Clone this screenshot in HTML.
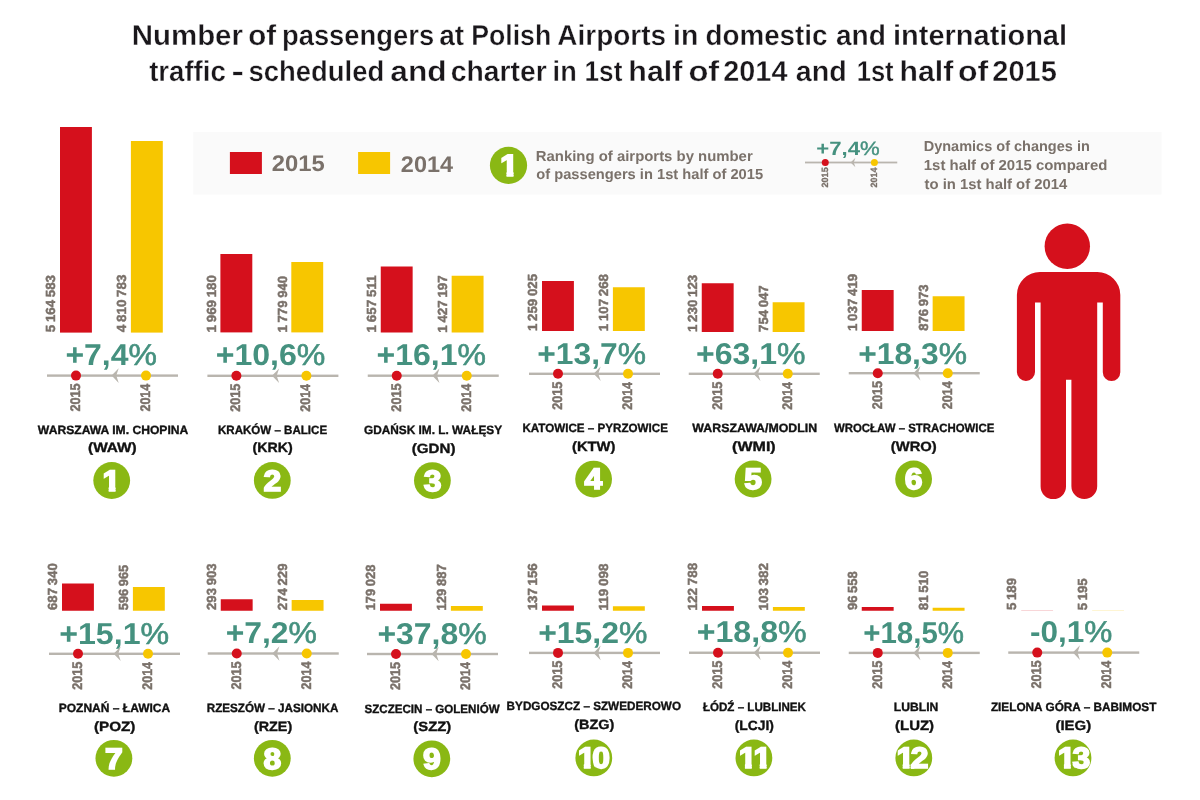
<!DOCTYPE html>
<html lang="en">
<head>
<meta charset="utf-8">
<title>Number of passengers at Polish Airports</title>
<style>
html,body{margin:0;padding:0;background:#fff;}
body{width:1200px;height:800px;overflow:hidden;}
svg{display:block;font-family:"Liberation Sans",sans-serif;}
text{white-space:pre;text-rendering:geometricPrecision;}
</style>
</head>
<body>
<svg width="1200" height="800" viewBox="0 0 1200 800">
<rect width="1200" height="800" fill="#ffffff"/>
<text y="45.10" font-size="28.8" fill="#1a171b" font-weight="bold" stroke="#fff" stroke-width="0.35"><tspan x="131.78" textLength="111.16" lengthAdjust="spacingAndGlyphs">Number</tspan> <tspan x="248.35" textLength="27.84" lengthAdjust="spacingAndGlyphs">of</tspan> <tspan x="281.95" textLength="152.18" lengthAdjust="spacingAndGlyphs">passengers</tspan> <tspan x="439.18" textLength="24.91" lengthAdjust="spacingAndGlyphs">at</tspan> <tspan x="471.22" textLength="79.93" lengthAdjust="spacingAndGlyphs">Polish</tspan> <tspan x="557.30" textLength="108.84" lengthAdjust="spacingAndGlyphs">Airports</tspan> <tspan x="673.02" textLength="25.25" lengthAdjust="spacingAndGlyphs">in</tspan> <tspan x="705.56" textLength="121.95" lengthAdjust="spacingAndGlyphs">domestic</tspan> <tspan x="835.88" textLength="49.98" lengthAdjust="spacingAndGlyphs">and</tspan> <tspan x="892.97" textLength="174.08" lengthAdjust="spacingAndGlyphs">international</tspan></text>
<text y="81.30" font-size="28.8" fill="#1a171b" font-weight="bold" stroke="#fff" stroke-width="0.35"><tspan x="149.16" textLength="76.64" lengthAdjust="spacingAndGlyphs">traffic</tspan> <tspan x="231.54" textLength="12.46" lengthAdjust="spacingAndGlyphs">-</tspan> <tspan x="248.53" textLength="135.77" lengthAdjust="spacingAndGlyphs">scheduled</tspan> <tspan x="390.32" textLength="56.26" lengthAdjust="spacingAndGlyphs">and</tspan> <tspan x="450.64" textLength="96.04" lengthAdjust="spacingAndGlyphs">charter</tspan> <tspan x="552.61" textLength="24.07" lengthAdjust="spacingAndGlyphs">in</tspan> <tspan x="584.61" textLength="37.71" lengthAdjust="spacingAndGlyphs">1st</tspan> <tspan x="628.38" textLength="54.06" lengthAdjust="spacingAndGlyphs">half</tspan> <tspan x="688.48" textLength="30.76" lengthAdjust="spacingAndGlyphs">of</tspan> <tspan x="723.30" textLength="64.15" lengthAdjust="spacingAndGlyphs">2014</tspan> <tspan x="795.86" textLength="51.03" lengthAdjust="spacingAndGlyphs">and</tspan> <tspan x="856.69" textLength="36.92" lengthAdjust="spacingAndGlyphs">1st</tspan> <tspan x="899.59" textLength="53.65" lengthAdjust="spacingAndGlyphs">half</tspan> <tspan x="958.05" textLength="30.19" lengthAdjust="spacingAndGlyphs">of</tspan> <tspan x="992.29" textLength="64.51" lengthAdjust="spacingAndGlyphs">2015</tspan></text>
<rect x="193.3" y="132" width="968.2" height="62.6" fill="#fafafa"/>
<rect x="229.9" y="152" width="32" height="22" fill="#d5101c"/>
<text x="271.87" y="170.80" font-size="22.7" fill="#7a716a" font-weight="bold" textLength="52.99" lengthAdjust="spacingAndGlyphs">2015</text>
<rect x="358.1" y="152" width="32" height="22" fill="#f7c600"/>
<text x="400.89" y="171.60" font-size="22.7" fill="#7a716a" font-weight="bold" textLength="52.14" lengthAdjust="spacingAndGlyphs">2014</text>
<circle cx="508.50" cy="165.40" r="18.6" fill="#8ab814"/>
<clipPath id="bc1"><rect x="-60" y="-60" width="120" height="55.68"/><rect x="-1.84" y="-4.82" width="6.50" height="10.32"/></clipPath>
<text transform="translate(508.50 175.95) scale(1.08 1)" clip-path="url(#bc1)" font-size="30.6" fill="#fff" stroke="#fff" stroke-width="1.7" stroke-linejoin="miter" font-weight="bold"><tspan x="-7.83">1</tspan></text>
<text x="535.80" y="161.30" font-size="14.5" fill="#7a716a" font-weight="bold" textLength="216.92" lengthAdjust="spacingAndGlyphs">Ranking of airports by number</text>
<text x="536.23" y="179.20" font-size="14.5" fill="#7a716a" font-weight="bold" textLength="226.88" lengthAdjust="spacingAndGlyphs">of passengers in 1st half of 2015</text>
<text x="816.32" y="154.80" font-size="19.4" fill="#45917f" font-weight="bold" textLength="63.47" lengthAdjust="spacingAndGlyphs">+7,4<tspan font-weight="normal" stroke="#45917f" stroke-width="0.39">%</tspan></text>
<rect x="805.00" y="161.60" width="92.25" height="1.8" fill="#b9b5ae"/>
<path d="M850.60 162.50 L855.40 157.80 L853.77 162.50 L855.40 167.20 Z" fill="#b9b5ae"/>
<circle cx="825.25" cy="162.50" r="3.5" fill="#d5101c"/>
<circle cx="874.40" cy="162.50" r="3.5" fill="#f7c600"/>
<text transform="translate(827.70 187.41) rotate(-90)" font-size="9.1" fill="#7a716a" font-weight="bold" stroke="#7a716a" stroke-width="0.32" textLength="20.06" lengthAdjust="spacingAndGlyphs">2015</text>
<text transform="translate(876.90 187.41) rotate(-90)" font-size="9.1" fill="#7a716a" font-weight="bold" stroke="#7a716a" stroke-width="0.32" textLength="19.86" lengthAdjust="spacingAndGlyphs">2014</text>
<text x="923.73" y="150.80" font-size="14.5" fill="#7a716a" font-weight="bold" textLength="166.07" lengthAdjust="spacingAndGlyphs">Dynamics of changes in</text>
<text x="923.76" y="170.00" font-size="14.5" fill="#7a716a" font-weight="bold" textLength="183.63" lengthAdjust="spacingAndGlyphs">1st half of 2015 compared</text>
<text x="924.52" y="189.30" font-size="14.5" fill="#7a716a" font-weight="bold" textLength="142.76" lengthAdjust="spacingAndGlyphs">to in 1st half of 2014</text>
<rect x="60.00" y="127.00" width="31.9" height="205.60" fill="#d5101c"/>
<rect x="130.90" y="141.00" width="31.9" height="191.60" fill="#f7c600"/>
<text transform="translate(55.30 332.20) rotate(-90)" font-size="13.2" fill="#7a716a" font-weight="bold" stroke="#7a716a" stroke-width="0.46" word-spacing="-1" textLength="57.16" lengthAdjust="spacingAndGlyphs">5 164 583</text>
<text transform="translate(126.15 332.20) rotate(-90)" font-size="13.2" fill="#7a716a" font-weight="bold" stroke="#7a716a" stroke-width="0.46" word-spacing="-1" textLength="57.66" lengthAdjust="spacingAndGlyphs">4 810 783</text>
<text x="65.46" y="365.00" font-size="30.1" fill="#45917f" font-weight="bold" textLength="91.48" lengthAdjust="spacingAndGlyphs">+7,4<tspan font-weight="normal" stroke="#45917f" stroke-width="0.60">%</tspan></text>
<rect x="47.00" y="374.40" width="131.00" height="2.4" fill="#b9b5ae"/>
<path d="M111.60 375.60 L118.70 368.30 L116.29 375.60 L118.70 382.90 Z" fill="#b9b5ae"/>
<circle cx="76.00" cy="375.60" r="5" fill="#d5101c"/>
<circle cx="146.00" cy="375.60" r="5" fill="#f7c600"/>
<text transform="translate(80.00 411.54) rotate(-90)" font-size="13.9" fill="#7a716a" font-weight="bold" stroke="#7a716a" stroke-width="0.49" textLength="28.09" lengthAdjust="spacingAndGlyphs">2015</text>
<text transform="translate(150.00 411.53) rotate(-90)" font-size="13.9" fill="#7a716a" font-weight="bold" stroke="#7a716a" stroke-width="0.49" textLength="27.80" lengthAdjust="spacingAndGlyphs">2014</text>
<text x="37.89" y="434.00" font-size="12" fill="#111" font-weight="bold" textLength="150.43" lengthAdjust="spacingAndGlyphs" stroke="#111" stroke-width="0.35">WARSZAWA IM. CHOPINA</text>
<text x="88.06" y="452.20" font-size="13.4" fill="#111" font-weight="bold" textLength="48.68" lengthAdjust="spacingAndGlyphs" stroke="#111" stroke-width="0.35">(WAW)</text>
<circle cx="111.70" cy="480.50" r="18.4" fill="#8ab814"/>
<clipPath id="bc2"><rect x="-60" y="-60" width="120" height="55.79"/><rect x="-2.78" y="-4.71" width="6.35" height="10.21"/></clipPath>
<text transform="translate(111.70 490.85) scale(1.08 1)" clip-path="url(#bc2)" font-size="29.5" fill="#fff" stroke="#fff" stroke-width="1.7" stroke-linejoin="miter" font-weight="bold"><tspan x="-8.51">1</tspan></text>
<rect x="220.40" y="254.00" width="31.9" height="78.40" fill="#d5101c"/>
<rect x="291.30" y="262.00" width="31.9" height="70.40" fill="#f7c600"/>
<text transform="translate(215.70 332.41) rotate(-90)" font-size="13.2" fill="#7a716a" font-weight="bold" stroke="#7a716a" stroke-width="0.46" word-spacing="-1" textLength="57.34" lengthAdjust="spacingAndGlyphs">1 969 180</text>
<text transform="translate(286.55 332.60) rotate(-90)" font-size="13.2" fill="#7a716a" font-weight="bold" stroke="#7a716a" stroke-width="0.46" word-spacing="-1" textLength="56.83" lengthAdjust="spacingAndGlyphs">1 779 940</text>
<text x="215.65" y="365.40" font-size="30.1" fill="#45917f" font-weight="bold" textLength="109.79" lengthAdjust="spacingAndGlyphs">+10,6<tspan font-weight="normal" stroke="#45917f" stroke-width="0.60">%</tspan></text>
<rect x="207.40" y="374.60" width="131.00" height="2.4" fill="#b9b5ae"/>
<path d="M272.00 375.80 L279.10 368.50 L276.69 375.80 L279.10 383.10 Z" fill="#b9b5ae"/>
<circle cx="236.40" cy="375.80" r="5" fill="#d5101c"/>
<circle cx="306.40" cy="375.80" r="5" fill="#f7c600"/>
<text transform="translate(240.40 411.74) rotate(-90)" font-size="13.9" fill="#7a716a" font-weight="bold" stroke="#7a716a" stroke-width="0.49" textLength="28.09" lengthAdjust="spacingAndGlyphs">2015</text>
<text transform="translate(310.40 411.73) rotate(-90)" font-size="13.9" fill="#7a716a" font-weight="bold" stroke="#7a716a" stroke-width="0.49" textLength="27.80" lengthAdjust="spacingAndGlyphs">2014</text>
<text x="217.93" y="434.00" font-size="12" fill="#111" font-weight="bold" textLength="109.23" lengthAdjust="spacingAndGlyphs" stroke="#111" stroke-width="0.35">KRAKÓW – BALICE</text>
<text x="252.59" y="452.20" font-size="13.4" fill="#111" font-weight="bold" textLength="40.11" lengthAdjust="spacingAndGlyphs" stroke="#111" stroke-width="0.35">(KRK)</text>
<circle cx="272.30" cy="480.40" r="18.4" fill="#8ab814"/>
<clipPath id="bc3"><rect x="-60" y="-60" width="120" height="55.79"/><rect x="-8.25" y="-4.71" width="16.50" height="10.21"/></clipPath>
<text transform="translate(272.30 490.75) scale(1.08 1)" clip-path="url(#bc3)" font-size="29.5" fill="#fff" stroke="#fff" stroke-width="1.7" stroke-linejoin="miter" font-weight="bold"><tspan x="-8.12">2</tspan></text>
<rect x="380.75" y="266.50" width="31.9" height="66.00" fill="#d5101c"/>
<rect x="451.65" y="275.75" width="31.9" height="56.75" fill="#f7c600"/>
<text transform="translate(376.05 332.51) rotate(-90)" font-size="13.2" fill="#7a716a" font-weight="bold" stroke="#7a716a" stroke-width="0.46" word-spacing="-1" textLength="57.17" lengthAdjust="spacingAndGlyphs">1 657 511</text>
<text transform="translate(446.90 332.71) rotate(-90)" font-size="13.2" fill="#7a716a" font-weight="bold" stroke="#7a716a" stroke-width="0.46" word-spacing="-1" textLength="57.38" lengthAdjust="spacingAndGlyphs">1 427 197</text>
<text x="376.46" y="364.60" font-size="30.1" fill="#45917f" font-weight="bold" textLength="109.49" lengthAdjust="spacingAndGlyphs">+16,1<tspan font-weight="normal" stroke="#45917f" stroke-width="0.60">%</tspan></text>
<rect x="367.75" y="374.50" width="131.00" height="2.4" fill="#b9b5ae"/>
<path d="M432.35 375.70 L439.45 368.40 L437.04 375.70 L439.45 383.00 Z" fill="#b9b5ae"/>
<circle cx="396.75" cy="375.70" r="5" fill="#d5101c"/>
<circle cx="466.75" cy="375.70" r="5" fill="#f7c600"/>
<text transform="translate(400.75 411.64) rotate(-90)" font-size="13.9" fill="#7a716a" font-weight="bold" stroke="#7a716a" stroke-width="0.49" textLength="28.09" lengthAdjust="spacingAndGlyphs">2015</text>
<text transform="translate(470.75 411.63) rotate(-90)" font-size="13.9" fill="#7a716a" font-weight="bold" stroke="#7a716a" stroke-width="0.49" textLength="27.80" lengthAdjust="spacingAndGlyphs">2014</text>
<text x="364.02" y="434.00" font-size="12" fill="#111" font-weight="bold" textLength="138.07" lengthAdjust="spacingAndGlyphs" stroke="#111" stroke-width="0.35">GDAŃSK IM. L. WAŁĘSY</text>
<text x="411.75" y="452.60" font-size="13.4" fill="#111" font-weight="bold" textLength="43.71" lengthAdjust="spacingAndGlyphs" stroke="#111" stroke-width="0.35">(GDN)</text>
<circle cx="432.40" cy="480.60" r="18.4" fill="#8ab814"/>
<clipPath id="bc4"><rect x="-60" y="-60" width="120" height="55.79"/><rect x="-8.48" y="-4.71" width="16.96" height="10.21"/></clipPath>
<text transform="translate(432.40 490.95) scale(1.08 1)" clip-path="url(#bc4)" font-size="29.5" fill="#fff" stroke="#fff" stroke-width="1.7" stroke-linejoin="miter" font-weight="bold"><tspan x="-8.01">3</tspan></text>
<rect x="542.00" y="281.00" width="31.9" height="50.00" fill="#d5101c"/>
<rect x="612.90" y="287.25" width="31.9" height="43.75" fill="#f7c600"/>
<text transform="translate(537.30 331.01) rotate(-90)" font-size="13.2" fill="#7a716a" font-weight="bold" stroke="#7a716a" stroke-width="0.46" word-spacing="-1" textLength="57.17" lengthAdjust="spacingAndGlyphs">1 259 025</text>
<text transform="translate(608.15 331.21) rotate(-90)" font-size="13.2" fill="#7a716a" font-weight="bold" stroke="#7a716a" stroke-width="0.46" word-spacing="-1" textLength="57.21" lengthAdjust="spacingAndGlyphs">1 107 268</text>
<text x="537.27" y="364.00" font-size="30.1" fill="#45917f" font-weight="bold" textLength="108.67" lengthAdjust="spacingAndGlyphs">+13,7<tspan font-weight="normal" stroke="#45917f" stroke-width="0.60">%</tspan></text>
<rect x="529.00" y="372.60" width="131.00" height="2.4" fill="#b9b5ae"/>
<path d="M593.60 373.80 L600.70 366.50 L598.29 373.80 L600.70 381.10 Z" fill="#b9b5ae"/>
<circle cx="558.00" cy="373.80" r="5" fill="#d5101c"/>
<circle cx="628.00" cy="373.80" r="5" fill="#f7c600"/>
<text transform="translate(562.00 409.74) rotate(-90)" font-size="13.9" fill="#7a716a" font-weight="bold" stroke="#7a716a" stroke-width="0.49" textLength="28.09" lengthAdjust="spacingAndGlyphs">2015</text>
<text transform="translate(632.00 409.73) rotate(-90)" font-size="13.9" fill="#7a716a" font-weight="bold" stroke="#7a716a" stroke-width="0.49" textLength="27.80" lengthAdjust="spacingAndGlyphs">2014</text>
<text x="522.43" y="431.90" font-size="12" fill="#111" font-weight="bold" textLength="145.52" lengthAdjust="spacingAndGlyphs" stroke="#111" stroke-width="0.35">KATOWICE – PYRZOWICE</text>
<text x="572.07" y="451.20" font-size="13.4" fill="#111" font-weight="bold" textLength="43.37" lengthAdjust="spacingAndGlyphs" stroke="#111" stroke-width="0.35">(KTW)</text>
<circle cx="593.60" cy="479.10" r="18.4" fill="#8ab814"/>
<clipPath id="bc5"><rect x="-60" y="-60" width="120" height="55.79"/><rect x="-9.05" y="-4.71" width="18.10" height="10.21"/></clipPath>
<text transform="translate(593.60 489.45) scale(1.08 1)" clip-path="url(#bc5)" font-size="29.5" fill="#fff" stroke="#fff" stroke-width="1.7" stroke-linejoin="miter" font-weight="bold"><tspan x="-8.35">4</tspan></text>
<rect x="701.75" y="283.25" width="31.9" height="48.75" fill="#d5101c"/>
<rect x="772.65" y="302.25" width="31.9" height="29.75" fill="#f7c600"/>
<text transform="translate(697.05 332.01) rotate(-90)" font-size="13.2" fill="#7a716a" font-weight="bold" stroke="#7a716a" stroke-width="0.46" word-spacing="-1" textLength="57.28" lengthAdjust="spacingAndGlyphs">1 230 123</text>
<text transform="translate(767.90 331.95) rotate(-90)" font-size="13.2" fill="#7a716a" font-weight="bold" stroke="#7a716a" stroke-width="0.46" word-spacing="-1" textLength="46.62" lengthAdjust="spacingAndGlyphs">754 047</text>
<text x="696.06" y="364.00" font-size="30.1" fill="#45917f" font-weight="bold" textLength="109.49" lengthAdjust="spacingAndGlyphs">+63,1<tspan font-weight="normal" stroke="#45917f" stroke-width="0.60">%</tspan></text>
<rect x="688.75" y="372.60" width="131.00" height="2.4" fill="#b9b5ae"/>
<path d="M753.35 373.80 L760.45 366.50 L758.04 373.80 L760.45 381.10 Z" fill="#b9b5ae"/>
<circle cx="717.75" cy="373.80" r="5" fill="#d5101c"/>
<circle cx="787.75" cy="373.80" r="5" fill="#f7c600"/>
<text transform="translate(721.75 409.74) rotate(-90)" font-size="13.9" fill="#7a716a" font-weight="bold" stroke="#7a716a" stroke-width="0.49" textLength="28.09" lengthAdjust="spacingAndGlyphs">2015</text>
<text transform="translate(791.75 409.73) rotate(-90)" font-size="13.9" fill="#7a716a" font-weight="bold" stroke="#7a716a" stroke-width="0.49" textLength="27.80" lengthAdjust="spacingAndGlyphs">2014</text>
<text x="692.39" y="431.90" font-size="12" fill="#111" font-weight="bold" textLength="124.73" lengthAdjust="spacingAndGlyphs" stroke="#111" stroke-width="0.35">WARSZAWA/MODLIN</text>
<text x="732.10" y="450.50" font-size="13.4" fill="#111" font-weight="bold" textLength="43.60" lengthAdjust="spacingAndGlyphs" stroke="#111" stroke-width="0.35">(WMI)</text>
<circle cx="753.10" cy="479.00" r="18.4" fill="#8ab814"/>
<clipPath id="bc6"><rect x="-60" y="-60" width="120" height="55.79"/><rect x="-8.49" y="-4.71" width="16.98" height="10.21"/></clipPath>
<text transform="translate(753.10 489.35) scale(1.08 1)" clip-path="url(#bc6)" font-size="29.5" fill="#fff" stroke="#fff" stroke-width="1.7" stroke-linejoin="miter" font-weight="bold"><tspan x="-8.25">5</tspan></text>
<rect x="861.75" y="290.00" width="31.9" height="41.00" fill="#d5101c"/>
<rect x="932.65" y="296.25" width="31.9" height="34.75" fill="#f7c600"/>
<text transform="translate(857.05 331.01) rotate(-90)" font-size="13.2" fill="#7a716a" font-weight="bold" stroke="#7a716a" stroke-width="0.46" word-spacing="-1" textLength="57.29" lengthAdjust="spacingAndGlyphs">1 037 419</text>
<text transform="translate(927.90 330.81) rotate(-90)" font-size="13.2" fill="#7a716a" font-weight="bold" stroke="#7a716a" stroke-width="0.46" word-spacing="-1" textLength="46.37" lengthAdjust="spacingAndGlyphs">876 973</text>
<text x="858.16" y="363.50" font-size="30.1" fill="#45917f" font-weight="bold" textLength="108.77" lengthAdjust="spacingAndGlyphs">+18,3<tspan font-weight="normal" stroke="#45917f" stroke-width="0.60">%</tspan></text>
<rect x="848.75" y="372.00" width="131.00" height="2.4" fill="#b9b5ae"/>
<path d="M913.35 373.20 L920.45 365.90 L918.04 373.20 L920.45 380.50 Z" fill="#b9b5ae"/>
<circle cx="877.75" cy="373.20" r="5" fill="#d5101c"/>
<circle cx="947.75" cy="373.20" r="5" fill="#f7c600"/>
<text transform="translate(881.75 409.14) rotate(-90)" font-size="13.9" fill="#7a716a" font-weight="bold" stroke="#7a716a" stroke-width="0.49" textLength="28.09" lengthAdjust="spacingAndGlyphs">2015</text>
<text transform="translate(951.75 409.13) rotate(-90)" font-size="13.9" fill="#7a716a" font-weight="bold" stroke="#7a716a" stroke-width="0.49" textLength="27.80" lengthAdjust="spacingAndGlyphs">2014</text>
<text x="833.99" y="431.90" font-size="12" fill="#111" font-weight="bold" textLength="160.36" lengthAdjust="spacingAndGlyphs" stroke="#111" stroke-width="0.35">WROCŁAW – STRACHOWICE</text>
<text x="890.87" y="450.50" font-size="13.4" fill="#111" font-weight="bold" textLength="45.87" lengthAdjust="spacingAndGlyphs" stroke="#111" stroke-width="0.35">(WRO)</text>
<circle cx="913.60" cy="479.00" r="18.4" fill="#8ab814"/>
<clipPath id="bc7"><rect x="-60" y="-60" width="120" height="55.79"/><rect x="-8.28" y="-4.71" width="16.56" height="10.21"/></clipPath>
<text transform="translate(913.60 489.35) scale(1.08 1)" clip-path="url(#bc7)" font-size="29.5" fill="#fff" stroke="#fff" stroke-width="1.7" stroke-linejoin="miter" font-weight="bold"><tspan x="-8.21">6</tspan></text>
<rect x="62.00" y="583.50" width="31.9" height="27.25" fill="#d5101c"/>
<rect x="132.90" y="587.00" width="31.9" height="23.75" fill="#f7c600"/>
<text transform="translate(56.80 610.02) rotate(-90)" font-size="13.2" fill="#7a716a" font-weight="bold" stroke="#7a716a" stroke-width="0.46" word-spacing="-1" textLength="46.75" lengthAdjust="spacingAndGlyphs">687 340</text>
<text transform="translate(127.90 610.13) rotate(-90)" font-size="13.2" fill="#7a716a" font-weight="bold" stroke="#7a716a" stroke-width="0.46" word-spacing="-1" textLength="45.23" lengthAdjust="spacingAndGlyphs">596 965</text>
<text x="59.15" y="643.50" font-size="30.1" fill="#45917f" font-weight="bold" textLength="110.00" lengthAdjust="spacingAndGlyphs">+15,1<tspan font-weight="normal" stroke="#45917f" stroke-width="0.60">%</tspan></text>
<rect x="49.00" y="652.60" width="131.00" height="2.4" fill="#b9b5ae"/>
<path d="M113.60 653.80 L120.70 646.50 L118.29 653.80 L120.70 661.10 Z" fill="#b9b5ae"/>
<circle cx="78.00" cy="653.80" r="5" fill="#d5101c"/>
<circle cx="148.00" cy="653.80" r="5" fill="#f7c600"/>
<text transform="translate(82.00 689.74) rotate(-90)" font-size="13.9" fill="#7a716a" font-weight="bold" stroke="#7a716a" stroke-width="0.49" textLength="28.09" lengthAdjust="spacingAndGlyphs">2015</text>
<text transform="translate(152.00 689.73) rotate(-90)" font-size="13.9" fill="#7a716a" font-weight="bold" stroke="#7a716a" stroke-width="0.49" textLength="27.80" lengthAdjust="spacingAndGlyphs">2014</text>
<text x="58.70" y="712.10" font-size="12" fill="#111" font-weight="bold" textLength="111.51" lengthAdjust="spacingAndGlyphs" stroke="#111" stroke-width="0.35">POZNAŃ – ŁAWICA</text>
<text x="93.94" y="730.80" font-size="13.4" fill="#111" font-weight="bold" textLength="41.52" lengthAdjust="spacingAndGlyphs" stroke="#111" stroke-width="0.35">(POZ)</text>
<circle cx="113.90" cy="758.30" r="18.4" fill="#8ab814"/>
<clipPath id="bc8"><rect x="-60" y="-60" width="120" height="55.79"/><rect x="-8.07" y="-4.71" width="16.14" height="10.21"/></clipPath>
<text transform="translate(113.90 768.65) scale(1.08 1)" clip-path="url(#bc8)" font-size="29.5" fill="#fff" stroke="#fff" stroke-width="1.7" stroke-linejoin="miter" font-weight="bold"><tspan x="-8.19">7</tspan></text>
<rect x="220.75" y="599.25" width="31.9" height="11.50" fill="#d5101c"/>
<rect x="291.65" y="600.00" width="31.9" height="10.75" fill="#f7c600"/>
<text transform="translate(215.55 610.00) rotate(-90)" font-size="13.2" fill="#7a716a" font-weight="bold" stroke="#7a716a" stroke-width="0.46" word-spacing="-1" textLength="46.66" lengthAdjust="spacingAndGlyphs">293 903</text>
<text transform="translate(286.65 610.20) rotate(-90)" font-size="13.2" fill="#7a716a" font-weight="bold" stroke="#7a716a" stroke-width="0.46" word-spacing="-1" textLength="46.68" lengthAdjust="spacingAndGlyphs">274 229</text>
<text x="225.66" y="643.10" font-size="30.1" fill="#45917f" font-weight="bold" textLength="91.22" lengthAdjust="spacingAndGlyphs">+7,2<tspan font-weight="normal" stroke="#45917f" stroke-width="0.60">%</tspan></text>
<rect x="207.75" y="652.30" width="131.00" height="2.4" fill="#b9b5ae"/>
<path d="M272.35 653.50 L279.45 646.20 L277.04 653.50 L279.45 660.80 Z" fill="#b9b5ae"/>
<circle cx="236.75" cy="653.50" r="5" fill="#d5101c"/>
<circle cx="306.75" cy="653.50" r="5" fill="#f7c600"/>
<text transform="translate(240.75 689.44) rotate(-90)" font-size="13.9" fill="#7a716a" font-weight="bold" stroke="#7a716a" stroke-width="0.49" textLength="28.09" lengthAdjust="spacingAndGlyphs">2015</text>
<text transform="translate(310.75 689.43) rotate(-90)" font-size="13.9" fill="#7a716a" font-weight="bold" stroke="#7a716a" stroke-width="0.49" textLength="27.80" lengthAdjust="spacingAndGlyphs">2014</text>
<text x="206.72" y="712.10" font-size="12" fill="#111" font-weight="bold" textLength="131.69" lengthAdjust="spacingAndGlyphs" stroke="#111" stroke-width="0.35">RZESZÓW – JASIONKA</text>
<text x="253.99" y="730.80" font-size="13.4" fill="#111" font-weight="bold" textLength="38.23" lengthAdjust="spacingAndGlyphs" stroke="#111" stroke-width="0.35">(RZE)</text>
<circle cx="272.30" cy="758.30" r="18.4" fill="#8ab814"/>
<clipPath id="bc9"><rect x="-60" y="-60" width="120" height="55.79"/><rect x="-8.43" y="-4.71" width="16.86" height="10.21"/></clipPath>
<text transform="translate(272.30 768.65) scale(1.08 1)" clip-path="url(#bc9)" font-size="29.5" fill="#fff" stroke="#fff" stroke-width="1.7" stroke-linejoin="miter" font-weight="bold"><tspan x="-8.22">8</tspan></text>
<rect x="380.00" y="603.75" width="31.9" height="7.00" fill="#d5101c"/>
<rect x="450.90" y="606.00" width="31.9" height="4.75" fill="#f7c600"/>
<text transform="translate(374.80 610.35) rotate(-90)" font-size="13.2" fill="#7a716a" font-weight="bold" stroke="#7a716a" stroke-width="0.46" word-spacing="-1" textLength="45.68" lengthAdjust="spacingAndGlyphs">179 028</text>
<text transform="translate(445.90 610.56) rotate(-90)" font-size="13.2" fill="#7a716a" font-weight="bold" stroke="#7a716a" stroke-width="0.46" word-spacing="-1" textLength="46.37" lengthAdjust="spacingAndGlyphs">129 887</text>
<text x="377.41" y="643.60" font-size="30.1" fill="#45917f" font-weight="bold" textLength="109.23" lengthAdjust="spacingAndGlyphs">+37,8<tspan font-weight="normal" stroke="#45917f" stroke-width="0.60">%</tspan></text>
<rect x="367.00" y="652.80" width="131.00" height="2.4" fill="#b9b5ae"/>
<path d="M431.60 654.00 L438.70 646.70 L436.29 654.00 L438.70 661.30 Z" fill="#b9b5ae"/>
<circle cx="396.00" cy="654.00" r="5" fill="#d5101c"/>
<circle cx="466.00" cy="654.00" r="5" fill="#f7c600"/>
<text transform="translate(400.00 689.94) rotate(-90)" font-size="13.9" fill="#7a716a" font-weight="bold" stroke="#7a716a" stroke-width="0.49" textLength="28.09" lengthAdjust="spacingAndGlyphs">2015</text>
<text transform="translate(470.00 689.93) rotate(-90)" font-size="13.9" fill="#7a716a" font-weight="bold" stroke="#7a716a" stroke-width="0.49" textLength="27.80" lengthAdjust="spacingAndGlyphs">2014</text>
<text x="364.57" y="712.50" font-size="12" fill="#111" font-weight="bold" textLength="135.04" lengthAdjust="spacingAndGlyphs" stroke="#111" stroke-width="0.35">SZCZECIN – GOLENIÓW</text>
<text x="413.36" y="731.10" font-size="13.4" fill="#111" font-weight="bold" textLength="37.77" lengthAdjust="spacingAndGlyphs" stroke="#111" stroke-width="0.35">(SZZ)</text>
<circle cx="431.80" cy="758.80" r="18.4" fill="#8ab814"/>
<clipPath id="bc10"><rect x="-60" y="-60" width="120" height="55.79"/><rect x="-8.29" y="-4.71" width="16.59" height="10.21"/></clipPath>
<text transform="translate(431.80 769.15) scale(1.08 1)" clip-path="url(#bc10)" font-size="29.5" fill="#fff" stroke="#fff" stroke-width="1.7" stroke-linejoin="miter" font-weight="bold"><tspan x="-8.17">9</tspan></text>
<rect x="542.00" y="605.50" width="31.9" height="5.25" fill="#d5101c"/>
<rect x="612.90" y="606.25" width="31.9" height="4.50" fill="#f7c600"/>
<text transform="translate(536.80 610.37) rotate(-90)" font-size="13.2" fill="#7a716a" font-weight="bold" stroke="#7a716a" stroke-width="0.46" word-spacing="-1" textLength="47.04" lengthAdjust="spacingAndGlyphs">137 156</text>
<text transform="translate(607.90 610.57) rotate(-90)" font-size="13.2" fill="#7a716a" font-weight="bold" stroke="#7a716a" stroke-width="0.46" word-spacing="-1" textLength="46.97" lengthAdjust="spacingAndGlyphs">119 098</text>
<text x="538.16" y="642.50" font-size="30.1" fill="#45917f" font-weight="bold" textLength="109.23" lengthAdjust="spacingAndGlyphs">+15,2<tspan font-weight="normal" stroke="#45917f" stroke-width="0.60">%</tspan></text>
<rect x="529.00" y="651.70" width="131.00" height="2.4" fill="#b9b5ae"/>
<path d="M593.60 652.90 L600.70 645.60 L598.29 652.90 L600.70 660.20 Z" fill="#b9b5ae"/>
<circle cx="558.00" cy="652.90" r="5" fill="#d5101c"/>
<circle cx="628.00" cy="652.90" r="5" fill="#f7c600"/>
<text transform="translate(562.00 688.84) rotate(-90)" font-size="13.9" fill="#7a716a" font-weight="bold" stroke="#7a716a" stroke-width="0.49" textLength="28.09" lengthAdjust="spacingAndGlyphs">2015</text>
<text transform="translate(632.00 688.83) rotate(-90)" font-size="13.9" fill="#7a716a" font-weight="bold" stroke="#7a716a" stroke-width="0.49" textLength="27.80" lengthAdjust="spacingAndGlyphs">2014</text>
<text x="506.62" y="710.40" font-size="12" fill="#111" font-weight="bold" textLength="174.38" lengthAdjust="spacingAndGlyphs" stroke="#111" stroke-width="0.35">BYDGOSZCZ – SZWEDEROWO</text>
<text x="574.18" y="729.00" font-size="13.4" fill="#111" font-weight="bold" textLength="40.14" lengthAdjust="spacingAndGlyphs" stroke="#111" stroke-width="0.35">(BZG)</text>
<circle cx="593.80" cy="757.90" r="18.4" fill="#8ab814"/>
<clipPath id="bc11"><rect x="-60" y="-60" width="120" height="55.79"/><rect x="-9.23" y="-4.71" width="6.35" height="10.21"/><polygon points="-1.41,-4.71 -0.55,-4.50 -0.35,-4.00 -0.15,-3.50 0.05,-3.00 0.25,-2.50 0.55,-2.00 0.95,-1.50 1.35,-1.00 1.85,-0.50 2.55,0.00 3.55,0.50 5.25,1.00 5.25,6.00 14.92,6.00 14.92,-4.71"/></clipPath>
<text transform="translate(593.80 768.25) scale(1.08 1)" clip-path="url(#bc11)" font-size="29.5" fill="#fff" stroke="#fff" stroke-width="1.7" stroke-linejoin="miter" font-weight="bold"><tspan x="-14.96">1</tspan><tspan x="-1.43">0</tspan></text>
<rect x="702.00" y="606.00" width="31.9" height="4.75" fill="#d5101c"/>
<rect x="772.90" y="607.00" width="31.9" height="3.75" fill="#f7c600"/>
<text transform="translate(696.80 610.38) rotate(-90)" font-size="13.2" fill="#7a716a" font-weight="bold" stroke="#7a716a" stroke-width="0.46" word-spacing="-1" textLength="47.48" lengthAdjust="spacingAndGlyphs">122 788</text>
<text transform="translate(767.90 610.58) rotate(-90)" font-size="13.2" fill="#7a716a" font-weight="bold" stroke="#7a716a" stroke-width="0.46" word-spacing="-1" textLength="47.61" lengthAdjust="spacingAndGlyphs">103 382</text>
<text x="696.65" y="642.35" font-size="30.1" fill="#45917f" font-weight="bold" textLength="110.00" lengthAdjust="spacingAndGlyphs">+18,8<tspan font-weight="normal" stroke="#45917f" stroke-width="0.60">%</tspan></text>
<rect x="689.00" y="651.55" width="131.00" height="2.4" fill="#b9b5ae"/>
<path d="M753.60 652.75 L760.70 645.45 L758.29 652.75 L760.70 660.05 Z" fill="#b9b5ae"/>
<circle cx="718.00" cy="652.75" r="5" fill="#d5101c"/>
<circle cx="788.00" cy="652.75" r="5" fill="#f7c600"/>
<text transform="translate(722.00 688.69) rotate(-90)" font-size="13.9" fill="#7a716a" font-weight="bold" stroke="#7a716a" stroke-width="0.49" textLength="28.09" lengthAdjust="spacingAndGlyphs">2015</text>
<text transform="translate(792.00 688.68) rotate(-90)" font-size="13.9" fill="#7a716a" font-weight="bold" stroke="#7a716a" stroke-width="0.49" textLength="27.80" lengthAdjust="spacingAndGlyphs">2014</text>
<text x="702.90" y="710.80" font-size="12" fill="#111" font-weight="bold" textLength="103.01" lengthAdjust="spacingAndGlyphs" stroke="#111" stroke-width="0.35">ŁÓDŹ – LUBLINEK</text>
<text x="734.71" y="729.60" font-size="13.4" fill="#111" font-weight="bold" textLength="39.28" lengthAdjust="spacingAndGlyphs" stroke="#111" stroke-width="0.35">(LCJI)</text>
<circle cx="753.90" cy="757.90" r="18.4" fill="#8ab814"/>
<clipPath id="bc12"><rect x="-60" y="-60" width="120" height="55.79"/><rect x="-8.30" y="-4.71" width="6.35" height="10.21"/><rect x="5.40" y="-4.71" width="6.35" height="10.21"/></clipPath>
<text transform="translate(753.90 768.25) scale(1.08 1)" clip-path="url(#bc12)" font-size="29.5" fill="#fff" stroke="#fff" stroke-width="1.7" stroke-linejoin="miter" font-weight="bold"><tspan x="-14.04">1</tspan><tspan x="-0.33">1</tspan></text>
<rect x="861.75" y="607.00" width="31.9" height="3.75" fill="#d5101c"/>
<rect x="932.65" y="607.75" width="31.9" height="3.00" fill="#f7c600"/>
<text transform="translate(856.55 609.99) rotate(-90)" font-size="13.2" fill="#7a716a" font-weight="bold" stroke="#7a716a" stroke-width="0.46" word-spacing="-1" textLength="38.83" lengthAdjust="spacingAndGlyphs">96 558</text>
<text transform="translate(927.65 610.16) rotate(-90)" font-size="13.2" fill="#7a716a" font-weight="bold" stroke="#7a716a" stroke-width="0.46" word-spacing="-1" textLength="39.69" lengthAdjust="spacingAndGlyphs">81 510</text>
<text x="863.26" y="642.50" font-size="30.1" fill="#45917f" font-weight="bold" textLength="100.79" lengthAdjust="spacingAndGlyphs">+18,5<tspan font-weight="normal" stroke="#45917f" stroke-width="0.60">%</tspan></text>
<rect x="848.75" y="651.70" width="131.00" height="2.4" fill="#b9b5ae"/>
<path d="M913.35 652.90 L920.45 645.60 L918.04 652.90 L920.45 660.20 Z" fill="#b9b5ae"/>
<circle cx="877.75" cy="652.90" r="5" fill="#d5101c"/>
<circle cx="947.75" cy="652.90" r="5" fill="#f7c600"/>
<text transform="translate(881.75 688.84) rotate(-90)" font-size="13.9" fill="#7a716a" font-weight="bold" stroke="#7a716a" stroke-width="0.49" textLength="28.09" lengthAdjust="spacingAndGlyphs">2015</text>
<text transform="translate(951.75 688.83) rotate(-90)" font-size="13.9" fill="#7a716a" font-weight="bold" stroke="#7a716a" stroke-width="0.49" textLength="27.80" lengthAdjust="spacingAndGlyphs">2014</text>
<text x="893.79" y="710.80" font-size="12" fill="#111" font-weight="bold" textLength="44.53" lengthAdjust="spacingAndGlyphs" stroke="#111" stroke-width="0.35">LUBLIN</text>
<text x="895.06" y="729.60" font-size="13.4" fill="#111" font-weight="bold" textLength="38.99" lengthAdjust="spacingAndGlyphs" stroke="#111" stroke-width="0.35">(LUZ)</text>
<circle cx="913.80" cy="757.90" r="18.4" fill="#8ab814"/>
<clipPath id="bc13"><rect x="-60" y="-60" width="120" height="55.79"/><rect x="-10.25" y="-4.71" width="6.35" height="10.21"/><rect x="-2.89" y="-4.71" width="16.50" height="10.21"/></clipPath>
<text transform="translate(913.80 768.25) scale(1.08 1)" clip-path="url(#bc13)" font-size="29.5" fill="#fff" stroke="#fff" stroke-width="1.7" stroke-linejoin="miter" font-weight="bold"><tspan x="-15.98">1</tspan><tspan x="-2.77">2</tspan></text>
<rect x="1021.25" y="610.40" width="31.8" height="0.5" fill="#d5101c" opacity="0.35"/>
<rect x="1092.15" y="610.40" width="31.8" height="0.5" fill="#f7c600" opacity="0.35"/>
<text transform="translate(1016.05 610.09) rotate(-90)" font-size="13.2" fill="#7a716a" font-weight="bold" stroke="#7a716a" stroke-width="0.46" word-spacing="-1" textLength="32.12" lengthAdjust="spacingAndGlyphs">5 189</text>
<text transform="translate(1087.15 610.29) rotate(-90)" font-size="13.2" fill="#7a716a" font-weight="bold" stroke="#7a716a" stroke-width="0.46" word-spacing="-1" textLength="32.00" lengthAdjust="spacingAndGlyphs">5 195</text>
<text x="1030.02" y="641.90" font-size="30.1" fill="#45917f" font-weight="bold" textLength="82.36" lengthAdjust="spacingAndGlyphs">-0,1<tspan font-weight="normal" stroke="#45917f" stroke-width="0.60">%</tspan></text>
<rect x="1008.25" y="651.40" width="131.00" height="2.4" fill="#b9b5ae"/>
<path d="M1072.85 652.60 L1079.95 645.30 L1077.54 652.60 L1079.95 659.90 Z" fill="#b9b5ae"/>
<circle cx="1037.25" cy="652.60" r="5" fill="#d5101c"/>
<circle cx="1107.25" cy="652.60" r="5" fill="#f7c600"/>
<text transform="translate(1041.25 688.54) rotate(-90)" font-size="13.9" fill="#7a716a" font-weight="bold" stroke="#7a716a" stroke-width="0.49" textLength="28.09" lengthAdjust="spacingAndGlyphs">2015</text>
<text transform="translate(1111.25 688.53) rotate(-90)" font-size="13.9" fill="#7a716a" font-weight="bold" stroke="#7a716a" stroke-width="0.49" textLength="27.80" lengthAdjust="spacingAndGlyphs">2014</text>
<text x="990.90" y="710.80" font-size="12" fill="#111" font-weight="bold" textLength="165.48" lengthAdjust="spacingAndGlyphs" stroke="#111" stroke-width="0.35">ZIELONA GÓRA – BABIMOST</text>
<text x="1055.51" y="729.60" font-size="13.4" fill="#111" font-weight="bold" textLength="35.64" lengthAdjust="spacingAndGlyphs" stroke="#111" stroke-width="0.35">(IEG)</text>
<circle cx="1073.00" cy="757.90" r="18.4" fill="#8ab814"/>
<clipPath id="bc14"><rect x="-60" y="-60" width="120" height="55.79"/><rect x="-8.39" y="-4.71" width="6.35" height="10.21"/><polygon points="-1.04,-4.71 -0.69,-4.50 -0.59,-4.00 -0.39,-3.50 -0.19,-3.00 0.11,-2.50 0.41,-2.00 0.71,-1.50 1.21,-1.00 1.81,-0.50 2.61,0.00 3.61,0.50 5.61,1.00 5.61,6.00 15.92,6.00 15.92,-4.71"/></clipPath>
<text transform="translate(1073.00 768.25) scale(1.08 1)" clip-path="url(#bc14)" font-size="29.5" fill="#fff" stroke="#fff" stroke-width="1.7" stroke-linejoin="miter" font-weight="bold"><tspan x="-14.13">1</tspan><tspan x="-0.57">3</tspan></text>
<circle cx="1067.3" cy="246.2" r="22.7" fill="#d5101c"/>
<path d="M1039.9 271.9 H1097.3 A23 23 0 0 1 1120.3 294.9 V372.25 A8.75 8.75 0 0 1 1102.8 372.25 V302.6 H1097.2 V486.20000000000005 A12.899999999999977 12.899999999999977 0 0 1 1071.4 486.20000000000005 V379.8 H1066.0 V486.4 A12.700000000000045 12.700000000000045 0 0 1 1040.6 486.4 V302.6 H1035.0 V371.95 A9.050000000000011 9.050000000000011 0 0 1 1016.9 371.95 V294.9 A23 23 0 0 1 1039.9 271.9 Z" fill="#d5101c"/>
</svg>
</body>
</html>
